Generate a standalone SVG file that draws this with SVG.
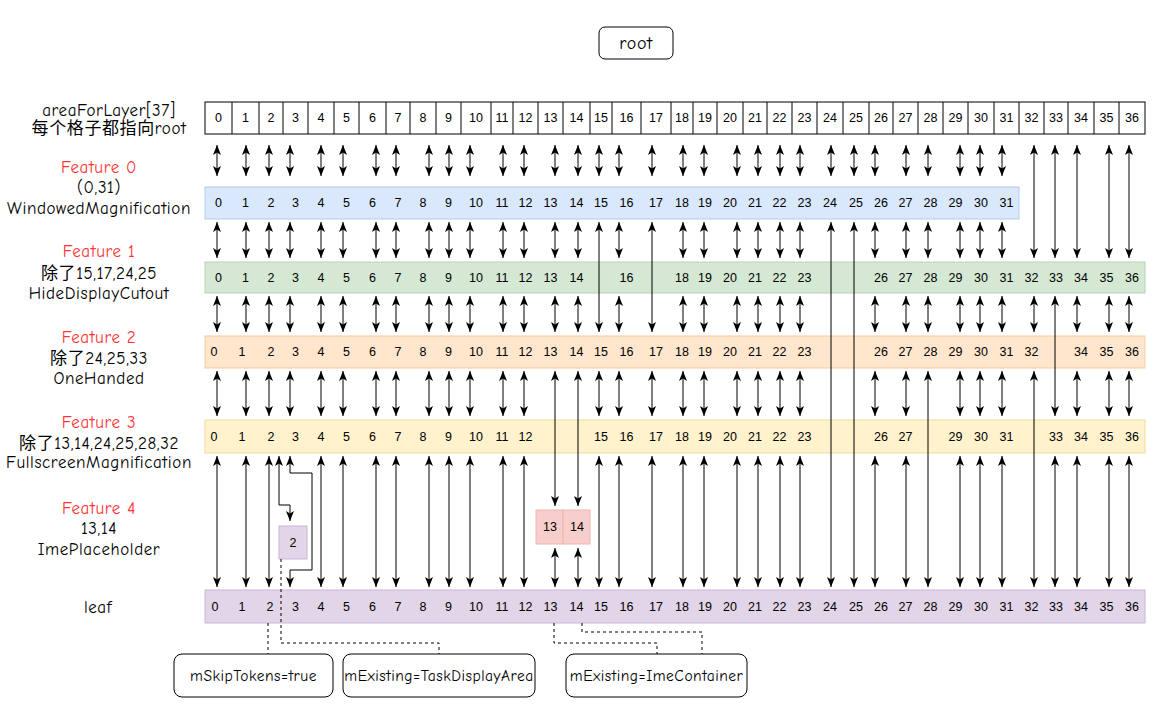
<svg xmlns="http://www.w3.org/2000/svg" width="1169" height="710" viewBox="0 0 1169 710">
<style>
.lbl{font-family:'Comic Sans MS','Comic Neue','Liberation Sans','Noto Sans CJK SC',sans-serif;font-size:17px;letter-spacing:0.6px;fill:#000;text-anchor:middle;dominant-baseline:central}
.red{fill:#ff3333}
.n{font-family:'Liberation Sans',Arial,sans-serif;font-size:12.5px;fill:#000;text-anchor:middle;dominant-baseline:central}
.cell{fill:#fff;stroke:#000;stroke-width:1}
.c line,.c path.a{stroke:#000;stroke-width:1;fill:none;marker-start:url(#ah);marker-end:url(#ah)}
.c path.d{stroke:#000;stroke-width:1;fill:none;stroke-dasharray:3 3}
.note{fill:#fff;stroke:#000;stroke-width:1}
.nt{font-family:'Comic Sans MS','Comic Neue','Liberation Sans',sans-serif;font-size:15.5px;letter-spacing:0.5px;fill:#000;text-anchor:middle;dominant-baseline:central}
</style>
<defs>
<marker id="ah" viewBox="0 0 10 8" refX="10" refY="4" markerWidth="10" markerHeight="8" markerUnits="userSpaceOnUse" orient="auto-start-reverse" preserveAspectRatio="none">
<path d="M0,0 L10,4 L0,8 L2.5,4 z" fill="#000"/>
</marker>
</defs>
<rect width="1169" height="710" fill="#fff"/>

<g id="root">
<rect x="599" y="27" width="74" height="32" rx="6" class="note"/>
<text x="636" y="43" class="lbl" style="font-size:18px">root</text>
</g>

<g id="labels">
<text x="109" y="110" class="lbl">areaForLayer[37]</text>
<text x="109" y="128" class="lbl">每个格子都指向root</text>
<text x="99" y="167" class="lbl red">Feature 0</text>
<text x="99" y="187" class="lbl">(0,31)</text>
<text x="99" y="208" class="lbl">WindowedMagnification</text>
<text x="99" y="251" class="lbl red">Feature 1</text>
<text x="99" y="273" class="lbl">除了15,17,24,25</text>
<text x="99" y="293" class="lbl">HideDisplayCutout</text>
<text x="99" y="337" class="lbl red">Feature 2</text>
<text x="99" y="358" class="lbl">除了24,25,33</text>
<text x="99" y="378" class="lbl">OneHanded</text>
<text x="99" y="422" class="lbl red">Feature 3</text>
<text x="99" y="443" class="lbl">除了13,14,24,25,28,32</text>
<text x="99" y="462" class="lbl">FullscreenMagnification</text>
<text x="99" y="508" class="lbl red">Feature 4</text>
<text x="99" y="528" class="lbl">13,14</text>
<text x="99" y="549" class="lbl">ImePlaceholder</text>
<text x="98" y="607" class="lbl">leaf</text>
</g>

<g id="areaForLayer">
<rect x="205" y="102" width="940" height="32" class="cell"/>
<path d="M232,102V134M259,102V134M283,102V134M308,102V134M334,102V134M359,102V134M386,102V134M410,102V134M436,102V134M461,102V134M491,102V134M513,102V134M538,102V134M563,102V134M590,102V134M612,102V134M641,102V134M671,102V134M693,102V134M717,102V134M743,102V134M767,102V134M792,102V134M817,102V134M843,102V134M869,102V134M893,102V134M918,102V134M943,102V134M968,102V134M994,102V134M1019,102V134M1044,102V134M1068,102V134M1094,102V134M1119,102V134" stroke="#000" stroke-width="1" fill="none"/>
<g class="n">
<text x="218.5" y="118">0</text><text x="245.5" y="118">1</text><text x="271" y="118">2</text><text x="295.5" y="118">3</text><text x="321" y="118">4</text><text x="346.5" y="118">5</text><text x="372.5" y="118">6</text><text x="398" y="118">7</text><text x="423" y="118">8</text><text x="448.5" y="118">9</text><text x="476" y="118">10</text><text x="502" y="118">11</text><text x="525.5" y="118">12</text><text x="550.5" y="118">13</text><text x="576.5" y="118">14</text><text x="601" y="118">15</text><text x="626.5" y="118">16</text><text x="656" y="118">17</text><text x="682" y="118">18</text><text x="705" y="118">19</text><text x="730" y="118">20</text><text x="755" y="118">21</text><text x="779.5" y="118">22</text><text x="804.5" y="118">23</text><text x="830" y="118">24</text><text x="856" y="118">25</text><text x="881" y="118">26</text><text x="905.5" y="118">27</text><text x="930.5" y="118">28</text><text x="955.5" y="118">29</text><text x="981" y="118">30</text><text x="1006.5" y="118">31</text><text x="1031.5" y="118">32</text><text x="1056" y="118">33</text><text x="1081" y="118">34</text><text x="1106.5" y="118">35</text><text x="1132" y="118">36</text>
</g>
</g>

<g id="feature0">
<rect x="205" y="187" width="814" height="32" fill="#dae8fc" stroke="#b3c9e8"/>
<g class="n">
<text x="218.5" y="203">0</text><text x="245.5" y="203">1</text><text x="271" y="203">2</text><text x="295.5" y="203">3</text><text x="321" y="203">4</text><text x="346.5" y="203">5</text><text x="372.5" y="203">6</text><text x="398" y="203">7</text><text x="423" y="203">8</text><text x="448.5" y="203">9</text><text x="476" y="203">10</text><text x="502" y="203">11</text><text x="525.5" y="203">12</text><text x="550.5" y="203">13</text><text x="576.5" y="203">14</text><text x="601" y="203">15</text><text x="626.5" y="203">16</text><text x="656" y="203">17</text><text x="682" y="203">18</text><text x="705" y="203">19</text><text x="730" y="203">20</text><text x="755" y="203">21</text><text x="779.5" y="203">22</text><text x="804.5" y="203">23</text><text x="830" y="203">24</text><text x="856" y="203">25</text><text x="881" y="203">26</text><text x="905.5" y="203">27</text><text x="930.5" y="203">28</text><text x="955.5" y="203">29</text><text x="981" y="203">30</text><text x="1006.5" y="203">31</text>
</g>
</g>

<g id="feature1">
<rect x="205" y="262" width="940" height="31" fill="#d5e8d4" stroke="#b5d3b3"/>
<g class="n">
<text x="218.5" y="277.5">0</text><text x="245.5" y="277.5">1</text><text x="271" y="277.5">2</text><text x="295.5" y="277.5">3</text><text x="321" y="277.5">4</text><text x="346.5" y="277.5">5</text><text x="372.5" y="277.5">6</text><text x="398" y="277.5">7</text><text x="423" y="277.5">8</text><text x="448.5" y="277.5">9</text><text x="476" y="277.5">10</text><text x="502" y="277.5">11</text><text x="525.5" y="277.5">12</text><text x="550.5" y="277.5">13</text><text x="576.5" y="277.5">14</text><text x="626.5" y="277.5">16</text><text x="682" y="277.5">18</text><text x="705" y="277.5">19</text><text x="730" y="277.5">20</text><text x="755" y="277.5">21</text><text x="779.5" y="277.5">22</text><text x="804.5" y="277.5">23</text><text x="881" y="277.5">26</text><text x="905.5" y="277.5">27</text><text x="930.5" y="277.5">28</text><text x="955.5" y="277.5">29</text><text x="981" y="277.5">30</text><text x="1006.5" y="277.5">31</text><text x="1031.5" y="277.5">32</text><text x="1056" y="277.5">33</text><text x="1081" y="277.5">34</text><text x="1106.5" y="277.5">35</text><text x="1132" y="277.5">36</text>
</g>
</g>

<g id="feature2">
<rect x="205" y="336" width="940" height="32" fill="#ffe6cc" stroke="#f2cc98"/>
<g class="n">
<text x="214" y="352">0</text><text x="242" y="352">1</text><text x="271" y="352">2</text><text x="295.5" y="352">3</text><text x="321" y="352">4</text><text x="346.5" y="352">5</text><text x="372.5" y="352">6</text><text x="398" y="352">7</text><text x="423" y="352">8</text><text x="448.5" y="352">9</text><text x="476" y="352">10</text><text x="502" y="352">11</text><text x="525.5" y="352">12</text><text x="550.5" y="352">13</text><text x="576.5" y="352">14</text><text x="601" y="352">15</text><text x="626.5" y="352">16</text><text x="656" y="352">17</text><text x="682" y="352">18</text><text x="705" y="352">19</text><text x="730" y="352">20</text><text x="755" y="352">21</text><text x="779.5" y="352">22</text><text x="804.5" y="352">23</text><text x="881" y="352">26</text><text x="905.5" y="352">27</text><text x="930.5" y="352">28</text><text x="955.5" y="352">29</text><text x="981" y="352">30</text><text x="1006.5" y="352">31</text><text x="1031.5" y="352">32</text><text x="1081" y="352">34</text><text x="1106.5" y="352">35</text><text x="1132" y="352">36</text>
</g>
</g>

<g id="feature3">
<rect x="205" y="420" width="940" height="33" fill="#fff2cc" stroke="#f0dc9c"/>
<g class="n">
<text x="214" y="436.5">0</text><text x="242" y="436.5">1</text><text x="271" y="436.5">2</text><text x="295.5" y="436.5">3</text><text x="321" y="436.5">4</text><text x="346.5" y="436.5">5</text><text x="372.5" y="436.5">6</text><text x="398" y="436.5">7</text><text x="423" y="436.5">8</text><text x="448.5" y="436.5">9</text><text x="476" y="436.5">10</text><text x="502" y="436.5">11</text><text x="525.5" y="436.5">12</text><text x="601" y="436.5">15</text><text x="626.5" y="436.5">16</text><text x="656" y="436.5">17</text><text x="682" y="436.5">18</text><text x="705" y="436.5">19</text><text x="730" y="436.5">20</text><text x="755" y="436.5">21</text><text x="779.5" y="436.5">22</text><text x="804.5" y="436.5">23</text><text x="881" y="436.5">26</text><text x="905.5" y="436.5">27</text><text x="955.5" y="436.5">29</text><text x="981" y="436.5">30</text><text x="1006.5" y="436.5">31</text><text x="1056" y="436.5">33</text><text x="1081" y="436.5">34</text><text x="1106.5" y="436.5">35</text><text x="1132" y="436.5">36</text>
</g>
</g>

<g id="feature4">
<rect x="279" y="526" width="28" height="33" fill="#e1d5e7" stroke="#c9b6d4"/>
<text x="293" y="542.5" class="n">2</text>
<rect x="536" y="510" width="27" height="34" fill="#f8cecc" stroke="#ecb5b3"/>
<rect x="563" y="510" width="27" height="34" fill="#f8cecc" stroke="#ecb5b3"/>
<text x="550" y="527" class="n">13</text>
<text x="577" y="527" class="n">14</text>
</g>

<g id="leaf">
<rect x="205" y="590" width="940" height="33" fill="#e1d5e7" stroke="#c9b6d4"/>
<g class="n">
<text x="215" y="606.5">0</text><text x="242" y="606.5">1</text><text x="270" y="606.5">2</text><text x="295.5" y="606.5">3</text><text x="321" y="606.5">4</text><text x="346.5" y="606.5">5</text><text x="372.5" y="606.5">6</text><text x="398" y="606.5">7</text><text x="423" y="606.5">8</text><text x="448.5" y="606.5">9</text><text x="476" y="606.5">10</text><text x="502" y="606.5">11</text><text x="525.5" y="606.5">12</text><text x="550.5" y="606.5">13</text><text x="576.5" y="606.5">14</text><text x="601" y="606.5">15</text><text x="626.5" y="606.5">16</text><text x="656" y="606.5">17</text><text x="682" y="606.5">18</text><text x="705" y="606.5">19</text><text x="730" y="606.5">20</text><text x="755" y="606.5">21</text><text x="779.5" y="606.5">22</text><text x="804.5" y="606.5">23</text><text x="830" y="606.5">24</text><text x="856" y="606.5">25</text><text x="881" y="606.5">26</text><text x="905.5" y="606.5">27</text><text x="930.5" y="606.5">28</text><text x="955.5" y="606.5">29</text><text x="981" y="606.5">30</text><text x="1006.5" y="606.5">31</text><text x="1031.5" y="606.5">32</text><text x="1056" y="606.5">33</text><text x="1081" y="606.5">34</text><text x="1106.5" y="606.5">35</text><text x="1132" y="606.5">36</text>
</g>
</g>

<g id="note-skip">
<rect x="174" y="654" width="159" height="43" rx="8" class="note"/>
<text x="253.5" y="676" class="nt">mSkipTokens=true</text>
</g>
<g id="note-task">
<rect x="343" y="654" width="192" height="43" rx="8" class="note"/>
<text x="439" y="676" class="nt">mExisting=TaskDisplayArea</text>
</g>
<g id="note-ime">
<rect x="566" y="654" width="181" height="43" rx="8" class="note"/>
<text x="656.5" y="676" class="nt">mExisting=ImeContainer</text>
</g>

<g id="connectors" class="c">
<line x1="217" y1="145" x2="217" y2="176"/><line x1="246" y1="145" x2="246" y2="176"/><line x1="269" y1="145" x2="269" y2="176"/><line x1="290" y1="145" x2="290" y2="176"/><line x1="321" y1="145" x2="321" y2="176"/><line x1="343" y1="145" x2="343" y2="176"/><line x1="376" y1="145" x2="376" y2="176"/><line x1="396" y1="145" x2="396" y2="176"/><line x1="429" y1="145" x2="429" y2="176"/><line x1="449" y1="145" x2="449" y2="176"/><line x1="470" y1="145" x2="470" y2="176"/><line x1="503" y1="145" x2="503" y2="176"/><line x1="524" y1="145" x2="524" y2="176"/><line x1="555" y1="145" x2="555" y2="176"/><line x1="578" y1="145" x2="578" y2="176"/><line x1="599" y1="145" x2="599" y2="176"/><line x1="619" y1="145" x2="619" y2="176"/><line x1="652" y1="145" x2="652" y2="176"/><line x1="683" y1="145" x2="683" y2="176"/><line x1="704" y1="145" x2="704" y2="176"/><line x1="737" y1="145" x2="737" y2="176"/><line x1="758" y1="145" x2="758" y2="176"/><line x1="780" y1="145" x2="780" y2="176"/><line x1="800" y1="145" x2="800" y2="176"/><line x1="831" y1="145" x2="831" y2="176"/><line x1="854" y1="145" x2="854" y2="176"/><line x1="875" y1="145" x2="875" y2="176"/><line x1="906" y1="145" x2="906" y2="176"/><line x1="928" y1="145" x2="928" y2="176"/><line x1="960" y1="145" x2="960" y2="176"/><line x1="980" y1="145" x2="980" y2="176"/><line x1="1002" y1="145" x2="1002" y2="176"/>
<line x1="1034" y1="145" x2="1034" y2="258"/><line x1="1055" y1="145" x2="1055" y2="258"/><line x1="1077" y1="145" x2="1077" y2="258"/><line x1="1109" y1="145" x2="1109" y2="258"/><line x1="1129" y1="145" x2="1129" y2="258"/>
<line x1="217" y1="222" x2="217" y2="258"/><line x1="246" y1="222" x2="246" y2="258"/><line x1="269" y1="222" x2="269" y2="258"/><line x1="290" y1="222" x2="290" y2="258"/><line x1="321" y1="222" x2="321" y2="258"/><line x1="343" y1="222" x2="343" y2="258"/><line x1="376" y1="222" x2="376" y2="258"/><line x1="396" y1="222" x2="396" y2="258"/><line x1="429" y1="222" x2="429" y2="258"/><line x1="449" y1="222" x2="449" y2="258"/><line x1="470" y1="222" x2="470" y2="258"/><line x1="503" y1="222" x2="503" y2="258"/><line x1="524" y1="222" x2="524" y2="258"/><line x1="555" y1="222" x2="555" y2="258"/><line x1="578" y1="222" x2="578" y2="258"/><line x1="619" y1="222" x2="619" y2="258"/><line x1="683" y1="222" x2="683" y2="258"/><line x1="704" y1="222" x2="704" y2="258"/><line x1="737" y1="222" x2="737" y2="258"/><line x1="758" y1="222" x2="758" y2="258"/><line x1="780" y1="222" x2="780" y2="258"/><line x1="800" y1="222" x2="800" y2="258"/><line x1="875" y1="222" x2="875" y2="258"/><line x1="906" y1="222" x2="906" y2="258"/><line x1="928" y1="222" x2="928" y2="258"/><line x1="960" y1="222" x2="960" y2="258"/><line x1="980" y1="222" x2="980" y2="258"/><line x1="1002" y1="222" x2="1002" y2="258"/>
<line x1="599" y1="222" x2="599" y2="332"/><line x1="652" y1="222" x2="652" y2="332"/>
<line x1="831" y1="222" x2="831" y2="587"/><line x1="854" y1="222" x2="854" y2="587"/>
<line x1="217" y1="296" x2="217" y2="332"/><line x1="246" y1="296" x2="246" y2="332"/><line x1="269" y1="296" x2="269" y2="332"/><line x1="290" y1="296" x2="290" y2="332"/><line x1="321" y1="296" x2="321" y2="332"/><line x1="343" y1="296" x2="343" y2="332"/><line x1="376" y1="296" x2="376" y2="332"/><line x1="396" y1="296" x2="396" y2="332"/><line x1="429" y1="296" x2="429" y2="332"/><line x1="449" y1="296" x2="449" y2="332"/><line x1="470" y1="296" x2="470" y2="332"/><line x1="503" y1="296" x2="503" y2="332"/><line x1="524" y1="296" x2="524" y2="332"/><line x1="555" y1="296" x2="555" y2="332"/><line x1="578" y1="296" x2="578" y2="332"/><line x1="619" y1="296" x2="619" y2="332"/><line x1="683" y1="296" x2="683" y2="332"/><line x1="704" y1="296" x2="704" y2="332"/><line x1="737" y1="296" x2="737" y2="332"/><line x1="758" y1="296" x2="758" y2="332"/><line x1="780" y1="296" x2="780" y2="332"/><line x1="800" y1="296" x2="800" y2="332"/><line x1="875" y1="296" x2="875" y2="332"/><line x1="906" y1="296" x2="906" y2="332"/><line x1="928" y1="296" x2="928" y2="332"/><line x1="960" y1="296" x2="960" y2="332"/><line x1="980" y1="296" x2="980" y2="332"/><line x1="1002" y1="296" x2="1002" y2="332"/><line x1="1034" y1="296" x2="1034" y2="332"/><line x1="1077" y1="296" x2="1077" y2="332"/><line x1="1109" y1="296" x2="1109" y2="332"/><line x1="1129" y1="296" x2="1129" y2="332"/>
<line x1="1055" y1="296" x2="1055" y2="416"/>
<line x1="217" y1="371" x2="217" y2="416"/><line x1="246" y1="371" x2="246" y2="416"/><line x1="269" y1="371" x2="269" y2="416"/><line x1="290" y1="371" x2="290" y2="416"/><line x1="321" y1="371" x2="321" y2="416"/><line x1="343" y1="371" x2="343" y2="416"/><line x1="376" y1="371" x2="376" y2="416"/><line x1="396" y1="371" x2="396" y2="416"/><line x1="429" y1="371" x2="429" y2="416"/><line x1="449" y1="371" x2="449" y2="416"/><line x1="470" y1="371" x2="470" y2="416"/><line x1="503" y1="371" x2="503" y2="416"/><line x1="524" y1="371" x2="524" y2="416"/><line x1="599" y1="371" x2="599" y2="416"/><line x1="619" y1="371" x2="619" y2="416"/><line x1="652" y1="371" x2="652" y2="416"/><line x1="683" y1="371" x2="683" y2="416"/><line x1="704" y1="371" x2="704" y2="416"/><line x1="737" y1="371" x2="737" y2="416"/><line x1="758" y1="371" x2="758" y2="416"/><line x1="780" y1="371" x2="780" y2="416"/><line x1="800" y1="371" x2="800" y2="416"/><line x1="875" y1="371" x2="875" y2="416"/><line x1="906" y1="371" x2="906" y2="416"/><line x1="960" y1="371" x2="960" y2="416"/><line x1="980" y1="371" x2="980" y2="416"/><line x1="1002" y1="371" x2="1002" y2="416"/><line x1="1077" y1="371" x2="1077" y2="416"/><line x1="1109" y1="371" x2="1109" y2="416"/><line x1="1129" y1="371" x2="1129" y2="416"/>
<line x1="555" y1="371" x2="555" y2="506"/><line x1="578" y1="371" x2="578" y2="506"/>
<line x1="928" y1="371" x2="928" y2="587"/><line x1="1034" y1="371" x2="1034" y2="587"/>
<line x1="217" y1="456" x2="217" y2="587"/><line x1="246" y1="456" x2="246" y2="587"/><line x1="269" y1="456" x2="269" y2="587"/><line x1="321" y1="456" x2="321" y2="587"/><line x1="343" y1="456" x2="343" y2="587"/><line x1="376" y1="456" x2="376" y2="587"/><line x1="396" y1="456" x2="396" y2="587"/><line x1="429" y1="456" x2="429" y2="587"/><line x1="449" y1="456" x2="449" y2="587"/><line x1="470" y1="456" x2="470" y2="587"/><line x1="503" y1="456" x2="503" y2="587"/><line x1="524" y1="456" x2="524" y2="587"/><line x1="599" y1="456" x2="599" y2="587"/><line x1="619" y1="456" x2="619" y2="587"/><line x1="652" y1="456" x2="652" y2="587"/><line x1="683" y1="456" x2="683" y2="587"/><line x1="704" y1="456" x2="704" y2="587"/><line x1="737" y1="456" x2="737" y2="587"/><line x1="758" y1="456" x2="758" y2="587"/><line x1="780" y1="456" x2="780" y2="587"/><line x1="800" y1="456" x2="800" y2="587"/><line x1="875" y1="456" x2="875" y2="587"/><line x1="906" y1="456" x2="906" y2="587"/><line x1="960" y1="456" x2="960" y2="587"/><line x1="980" y1="456" x2="980" y2="587"/><line x1="1002" y1="456" x2="1002" y2="587"/><line x1="1055" y1="456" x2="1055" y2="587"/><line x1="1077" y1="456" x2="1077" y2="587"/><line x1="1109" y1="456" x2="1109" y2="587"/><line x1="1129" y1="456" x2="1129" y2="587"/>
<path class="a" d="M290,456 L290,473 L312,473 L312,570 L290,570 L290,587"/>
<path class="a" d="M279,456 L279,505 L290,505 L290,521"/>
<line x1="555" y1="548" x2="555" y2="587"/><line x1="578" y1="548" x2="578" y2="587"/>
<path class="d" d="M268,623 V654"/>
<path class="d" d="M281,559 V643 H439 V654"/>
<path class="d" d="M554,623 V643 H657 V654"/>
<path class="d" d="M582,623 V632 H702 V654"/>
</g>
</svg>
